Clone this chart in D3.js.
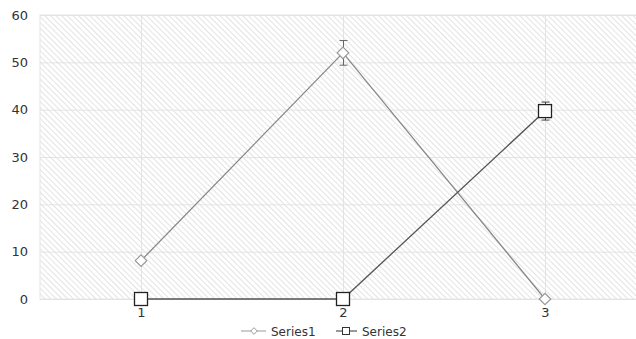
<!DOCTYPE html>
<html>
<head>
<meta charset="utf-8">
<script src="https://cdn.jsdelivr.net/npm/d3@7"></script>
<style>
  body { margin: 0; background: #fff; }
  text { font-family: "DejaVu Sans", Verdana, sans-serif; fill: #333; }
</style>
</head>
<body>
<div id="chart"></div>
<script>
const categories = [1, 2, 3];
const series1 = [8.1, 52, 0];
const series1Err = [0, 2.6, 0];
const series2 = [0, 0, 39.7];
const series2Err = [0, 0, 1.9];
const yTicks = [0, 10, 20, 30, 40, 50, 60];

const width = 636, height = 339;
const margin = { top: 15, left: 40, bottom: 40 };

const svg = d3.select('#chart').append('svg')
  .attr('width', width)
  .attr('height', height);

// hatch fill for the plot area
const defs = svg.append('defs');
defs.append('pattern')
  .attr('id', 'hatch')
  .attr('patternUnits', 'userSpaceOnUse')
  .attr('width', 4)
  .attr('height', 4)
  .attr('patternTransform', 'rotate(-45)')
  .append('line')
  .attr('x1', 0).attr('y1', 0).attr('x2', 0).attr('y2', 4)
  .attr('stroke', '#d4d4d4')
  .attr('stroke-width', 1.3);

const plotRight = 646;
const x = d3.scalePoint()
  .domain(categories)
  .range([margin.left, plotRight])
  .padding(0.5);

const y = d3.scaleLinear()
  .domain([0, 60])
  .range([height - margin.bottom, margin.top]);

svg.append('rect')
  .attr('x', margin.left)
  .attr('y', margin.top)
  .attr('width', plotRight - margin.left)
  .attr('height', y(0) - margin.top)
  .attr('fill', 'url(#hatch)')
  .attr('stroke', '#e6e6e6');

// grid
svg.append('g')
  .selectAll('line')
  .data(yTicks)
  .join('line')
  .attr('x1', margin.left).attr('x2', plotRight)
  .attr('y1', d => y(d) + 0.5).attr('y2', d => y(d) + 0.5)
  .attr('stroke', '#e3e3e3');

svg.append('g')
  .selectAll('line')
  .data(categories)
  .join('line')
  .attr('x1', d => x(d) + 0.5).attr('x2', d => x(d) + 0.5)
  .attr('y1', margin.top).attr('y2', y(0))
  .attr('stroke', '#e3e3e3');

// axes
const yAxis = svg.append('g')
  .attr('transform', `translate(${margin.left},0)`)
  .call(d3.axisLeft(y).tickValues(yTicks).tickSize(0).tickPadding(12));
yAxis.select('.domain').remove();
yAxis.selectAll('text').style('font-size', '13px').attr('fill', '#333');

const xAxis = svg.append('g')
  .attr('transform', `translate(0,${y(0)})`)
  .call(d3.axisBottom(x).tickSize(0).tickPadding(9));
xAxis.select('.domain').remove();
xAxis.selectAll('text').style('font-size', '13px').attr('fill', '#333');

const line = d3.line()
  .x((d, i) => x(categories[i]))
  .y(d => y(d));

function errorBars(values, errs, color) {
  const g = svg.append('g').attr('stroke', color).attr('stroke-width', 1);
  values.forEach((v, i) => {
    if (!errs[i]) return;
    const cx = x(categories[i]) + 0.5;
    const top = y(v + errs[i]), bot = y(v - errs[i]);
    g.append('line').attr('x1', cx).attr('x2', cx).attr('y1', top).attr('y2', bot);
    g.append('line').attr('x1', cx - 4).attr('x2', cx + 4).attr('y1', top).attr('y2', top);
    g.append('line').attr('x1', cx - 4).attr('x2', cx + 4).attr('y1', bot).attr('y2', bot);
  });
}

// Series1
errorBars(series1, series1Err, '#666');
svg.append('path')
  .datum(series1)
  .attr('d', line)
  .attr('fill', 'none')
  .attr('stroke', '#888')
  .attr('stroke-width', 1.3);

const diamond = d3.symbol().type(d3.symbolDiamond2).size(85);
svg.append('g')
  .selectAll('path')
  .data(series1)
  .join('path')
  .attr('d', diamond)
  .attr('transform', (d, i) => `translate(${x(categories[i])},${y(d)})`)
  .attr('fill', '#fff')
  .attr('stroke', '#999')
  .attr('stroke-width', 1.2);

// Series2
errorBars(series2, series2Err, '#444');
svg.append('path')
  .datum(series2)
  .attr('d', line)
  .attr('fill', 'none')
  .attr('stroke', '#555')
  .attr('stroke-width', 1.3);

svg.append('g')
  .selectAll('rect')
  .data(series2)
  .join('rect')
  .attr('x', (d, i) => x(categories[i]) - 6.5)
  .attr('y', d => y(d) - 6.5)
  .attr('width', 13)
  .attr('height', 13)
  .attr('fill', '#fff')
  .attr('stroke', '#222')
  .attr('stroke-width', 1.3);

// legend
const legend = svg.append('g').attr('transform', 'translate(0,331)');
legend.append('line').attr('x1', 241).attr('x2', 266).attr('y1', 0).attr('y2', 0)
  .attr('stroke', '#999');
legend.append('path').attr('d', d3.symbol().type(d3.symbolDiamond2).size(28))
  .attr('transform', 'translate(254,0)')
  .attr('fill', '#fff').attr('stroke', '#999');
legend.append('text').attr('x', 271).attr('y', 4.5).text('Series1')
  .style('font-size', '12px');

legend.append('line').attr('x1', 336).attr('x2', 357).attr('y1', 0).attr('y2', 0)
  .attr('stroke', '#333');
legend.append('rect').attr('x', 342.5).attr('y', -3.5).attr('width', 7).attr('height', 7)
  .attr('fill', '#fff').attr('stroke', '#333');
legend.append('text').attr('x', 362).attr('y', 4.5).text('Series2')
  .style('font-size', '12px');
</script>
</body>
</html>
